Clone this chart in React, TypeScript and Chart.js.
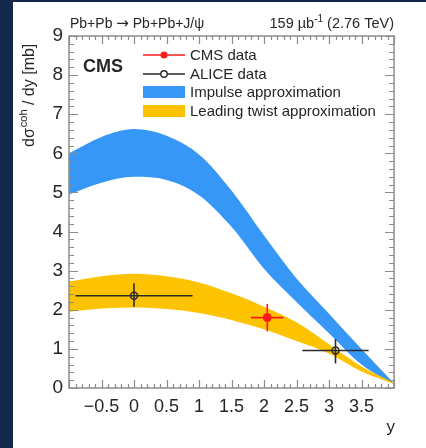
import React, { useEffect, useRef } from 'react';
import { Chart, registerables } from 'chart.js';

Chart.register(...registerables);

// ---------- data ----------
const rapidityGrid = [-1, -0.5, 0, 0.5, 1, 1.5, 2, 2.5, 3, 3.5, 4];
const impulseUpper = [6.0, 6.42, 6.62, 6.45, 5.97, 5.05, 3.9, 2.8, 1.9, 1.0, 0.12];
const impulseLower = [4.95, 5.25, 5.4, 5.32, 4.93, 4.12, 3.05, 2.2, 1.4, 0.6, 0.1];
const twistUpper = [2.72, 2.86, 2.92, 2.86, 2.7, 2.42, 2.08, 1.68, 1.12, 0.55, 0.13];
const twistLower = [1.95, 2.03, 2.06, 2.02, 1.92, 1.74, 1.5, 1.2, 0.88, 0.42, 0.1];

const cmsX = [2.05];
const cmsY = [1.8];
const cmsXErr = [0.25];
const cmsYErrUp = [0.35];
const cmsYErrDown = [0.35];

const aliceX = [0, 3.1];
const aliceY = [2.36, 0.96];
const aliceXErr = [0.9, 0.51];
const aliceYErrUp = [0.32, 0.29];
const aliceYErrDown = [0.28, 0.33];

const xTickValues = [-1, -0.5, 0, 0.5, 1, 1.5, 2, 2.5, 3, 3.5, 4];
const yTickValues = [0, 1, 2, 3, 4, 5, 6, 7, 8, 9];
const xMin = -1, xMax = 4, yMin = 0, yMax = 9;
const xMinorStep = 0.1, yMinorStep = 0.2;

const legendLabels = ['CMS data', 'ALICE data', 'Impulse approximation', 'Leading twist approximation'];
const titleLeftA = 'Pb+Pb ';
const titleArrow = '\u2192';
const titleLeftB = ' Pb+Pb+J/\u03c8';
const lumiMain = '159 \u00b5b';
const lumiSup = '-1';
const lumiTail = ' (2.76 TeV)';
const expLabel = 'CMS';
const yTitleParts = ['d\u03c3', 'coh', ' / dy [mb]'];
const xTitle = 'y';

// ---------- style ----------
const FONT = '"Liberation Sans", Arial, Helvetica, sans-serif';
const TEXT = '#262626';
const BLUE = '#3797f7';
const YELLOW = '#fdc300';
const RED = '#ff1a1a';
const DARK = '#2a2a2a';
const FRAME = '#8c8c8c';

function bandPoints(ys: number[]) {
  return rapidityGrid.map((x, i) => ({ x, y: ys[i] }));
}

function errorBarDatasets(xs: number[], ys: number[], xe: number[], yu: number[], yd: number[], color: string) {
  const out: any[] = [];
  xs.forEach((x, i) => {
    out.push({
      type: 'line', data: [{ x: x - xe[i], y: ys[i] }, { x: x + xe[i], y: ys[i] }],
      borderColor: color, borderWidth: 1.6, pointRadius: 0, fill: false, order: 1,
    });
    out.push({
      type: 'line', data: [{ x, y: ys[i] - yd[i] }, { x, y: ys[i] + yu[i] }],
      borderColor: color, borderWidth: 1.6, pointRadius: 0, fill: false, order: 1,
    });
  });
  return out;
}

const decorPlugin = {
  id: 'decor',
  afterDatasetsDraw(chart: any) {
    const { ctx, chartArea: a, scales } = chart;
    const x = scales.x, y = scales.y;
    ctx.save();
    ctx.strokeStyle = FRAME;
    ctx.lineWidth = 1.2;
    ctx.beginPath();
    const nx = Math.round((xMax - xMin) / xMinorStep);
    for (let i = 0; i <= nx; i++) {
      const v = xMin + i * xMinorStep;
      const px = Math.round(x.getPixelForValue(v)) + 0.5;
      const len = i % 5 === 0 ? 8 : 4;
      ctx.moveTo(px, a.bottom); ctx.lineTo(px, a.bottom - len);
      ctx.moveTo(px, a.top); ctx.lineTo(px, a.top + len);
    }
    const ny = Math.round((yMax - yMin) / yMinorStep);
    for (let i = 0; i <= ny; i++) {
      const v = yMin + i * yMinorStep;
      const py = Math.round(y.getPixelForValue(v)) + 0.5;
      const len = i % 5 === 0 ? 9 : 5;
      ctx.moveTo(a.left, py); ctx.lineTo(a.left + len, py);
      ctx.moveTo(a.right, py); ctx.lineTo(a.right - len, py);
    }
    ctx.stroke();
    ctx.lineWidth = 1.5;
    ctx.strokeRect(a.left, a.top, a.right - a.left, a.bottom - a.top);
    ctx.restore();
  },
  afterDraw(chart: any) {
    const { ctx, chartArea: a } = chart;
    ctx.save();
    ctx.fillStyle = TEXT;
    ctx.textBaseline = 'alphabetic';

    // top-left title
    const base = a.top - 8;
    ctx.textAlign = 'left';
    let tx0 = a.left + 1;
    ctx.font = `14px ${FONT}`;
    ctx.fillText(titleLeftA, tx0, base); tx0 += ctx.measureText(titleLeftA).width;
    ctx.font = `15px "DejaVu Sans", ${FONT}`;
    ctx.fillText(titleArrow, tx0, base); tx0 += ctx.measureText(titleArrow).width;
    ctx.font = `14px ${FONT}`;
    ctx.fillText(titleLeftB, tx0, base);

    // lumi
    const mainFont = `14.5px ${FONT}`;
    const supFont = `10px ${FONT}`;
    ctx.font = mainFont;
    const wTail = ctx.measureText(lumiTail).width;
    const wMain = ctx.measureText(lumiMain).width;
    ctx.font = supFont;
    const wSup = ctx.measureText(lumiSup).width;
    let cx = a.right - wTail - wSup - wMain;
    ctx.font = mainFont;
    ctx.fillText(lumiMain, cx, base); cx += wMain;
    ctx.font = supFont;
    ctx.fillText(lumiSup, cx, base - 6); cx += wSup;
    ctx.font = mainFont;
    ctx.fillText(lumiTail, cx, base);

    // CMS label
    ctx.font = `bold 18px ${FONT}`;
    ctx.fillText(expLabel, a.left + 14, a.top + 36);

    // legend
    const lx0 = a.left + 74, lx1 = a.left + 116, tx = a.left + 121;
    const rows = [a.top + 19, a.top + 38, a.top + 56, a.top + 75];
    ctx.font = `15px ${FONT}`;
    legendLabels.forEach((t, i) => {
      ctx.fillStyle = TEXT;
      ctx.fillText(t, tx, rows[i] + 5);
    });
    // CMS entry
    ctx.strokeStyle = RED; ctx.lineWidth = 1.6;
    ctx.beginPath(); ctx.moveTo(lx0, rows[0]); ctx.lineTo(lx1, rows[0]); ctx.stroke();
    ctx.fillStyle = RED;
    ctx.beginPath(); ctx.arc((lx0 + lx1) / 2, rows[0], 3.5, 0, Math.PI * 2); ctx.fill();
    // ALICE entry
    ctx.strokeStyle = DARK; ctx.lineWidth = 1.4;
    ctx.beginPath(); ctx.moveTo(lx0, rows[1]); ctx.lineTo(lx1, rows[1]); ctx.stroke();
    ctx.fillStyle = '#ffffff';
    ctx.beginPath(); ctx.arc((lx0 + lx1) / 2, rows[1], 3.2, 0, Math.PI * 2); ctx.fill(); ctx.stroke();
    // bands
    ctx.fillStyle = BLUE; ctx.fillRect(lx0, rows[2] - 6, lx1 - lx0, 12);
    ctx.fillStyle = YELLOW; ctx.fillRect(lx0, rows[3] - 6, lx1 - lx0, 12);

    // y title
    ctx.fillStyle = TEXT;
    ctx.translate(30, 147);
    ctx.rotate(-Math.PI / 2);
    ctx.textBaseline = 'middle';
    ctx.textAlign = 'left';
    ctx.font = `16px ${FONT}`;
    ctx.fillText(yTitleParts[0], 0, 0);
    let w = ctx.measureText(yTitleParts[0]).width;
    ctx.font = `11px ${FONT}`;
    ctx.fillText(yTitleParts[1], w + 1, -6);
    w += ctx.measureText(yTitleParts[1]).width + 1;
    ctx.font = `16px ${FONT}`;
    ctx.fillText(yTitleParts[2], w, 0);
    ctx.setTransform(1, 0, 0, 1, 0, 0);

    // x title
    ctx.textAlign = 'right';
    ctx.textBaseline = 'alphabetic';
    ctx.font = `17px ${FONT}`;
    ctx.fillText(xTitle, a.right + 1, 432);
    ctx.restore();
  },
};

export default function App() {
  const ref = useRef<HTMLCanvasElement>(null);
  useEffect(() => {
    if (!ref.current) return;
    const datasets: any[] = [
      {
        type: 'scatter', data: cmsX.map((x, i) => ({ x, y: cmsY[i] })),
        backgroundColor: RED, borderColor: RED, pointRadius: 4, order: 0,
      },
      {
        type: 'scatter', data: aliceX.map((x, i) => ({ x, y: aliceY[i] })),
        backgroundColor: 'rgba(0,0,0,0)', borderColor: DARK, borderWidth: 1.5, pointRadius: 3.5, order: 0,
      },
      ...errorBarDatasets(cmsX, cmsY, cmsXErr, cmsYErrUp, cmsYErrDown, RED),
      ...errorBarDatasets(aliceX, aliceY, aliceXErr, aliceYErrUp, aliceYErrDown, DARK),
    ];
    const bandStart = datasets.length;
    datasets.push({
      type: 'line', data: bandPoints(twistLower), borderWidth: 0, pointRadius: 0, fill: false,
      cubicInterpolationMode: 'monotone', order: 2,
    });
    datasets.push({
      type: 'line', data: bandPoints(twistUpper), borderWidth: 0, pointRadius: 0,
      fill: bandStart, backgroundColor: YELLOW, borderColor: YELLOW,
      cubicInterpolationMode: 'monotone', order: 2,
    });
    datasets.push({
      type: 'line', data: bandPoints(impulseLower), borderWidth: 0, pointRadius: 0, fill: false,
      cubicInterpolationMode: 'monotone', order: 3,
    });
    datasets.push({
      type: 'line', data: bandPoints(impulseUpper), borderWidth: 0, pointRadius: 0,
      fill: bandStart + 2, backgroundColor: BLUE, borderColor: BLUE,
      cubicInterpolationMode: 'monotone', order: 3,
    });

    const chart = new Chart(ref.current, {
      type: 'scatter',
      data: { datasets },
      options: {
        responsive: false,
        animation: false,
        layout: { padding: { top: 36, right: 32, left: 0, bottom: 0 } },
        plugins: { legend: { display: false }, tooltip: { enabled: false } },
        scales: {
          x: {
            type: 'linear', min: xMin, max: xMax,
            grid: { display: false, drawTicks: false }, border: { display: false },
            afterBuildTicks: (s: any) => { s.ticks = xTickValues.map((v) => ({ value: v })); },
            afterFit: (s: any) => { s.height = 60; },
            ticks: {
              autoSkip: false, maxRotation: 0, minRotation: 0, padding: 8, color: TEXT,
              font: { size: 18, family: FONT },
              callback: (v: any) => {
                const n = Number(v);
                if (n === xMin || n === xMax) return '';
                return n < 0 ? '\u2212' + Math.abs(n) : String(n);
              },
            },
          },
          y: {
            type: 'linear', min: yMin, max: yMax,
            grid: { display: false, drawTicks: false }, border: { display: false },
            afterBuildTicks: (s: any) => { s.ticks = yTickValues.map((v) => ({ value: v })); },
            afterFit: (s: any) => { s.width = 69; },
            ticks: {
              autoSkip: false, padding: 6, color: TEXT,
              font: { size: 19, family: FONT },
              callback: (v: any) => String(v),
            },
          },
        },
      },
      plugins: [decorPlugin],
    });
    return () => chart.destroy();
  }, []);

  return (
    <div style={{ position: 'fixed', left: 0, top: 0, width: 426, height: 448, background: '#ffffff', overflow: 'hidden' }}>
      <canvas ref={ref} width={426} height={448} style={{ position: 'absolute', left: 0, top: 0 }} />
      <div style={{ position: 'absolute', left: 0, top: 0, width: 13, height: 448, background: '#13284b' }} />
      <div style={{ position: 'absolute', left: 0, top: 0, width: 426, height: 2, background: '#13284b' }} />
    </div>
  );
}
